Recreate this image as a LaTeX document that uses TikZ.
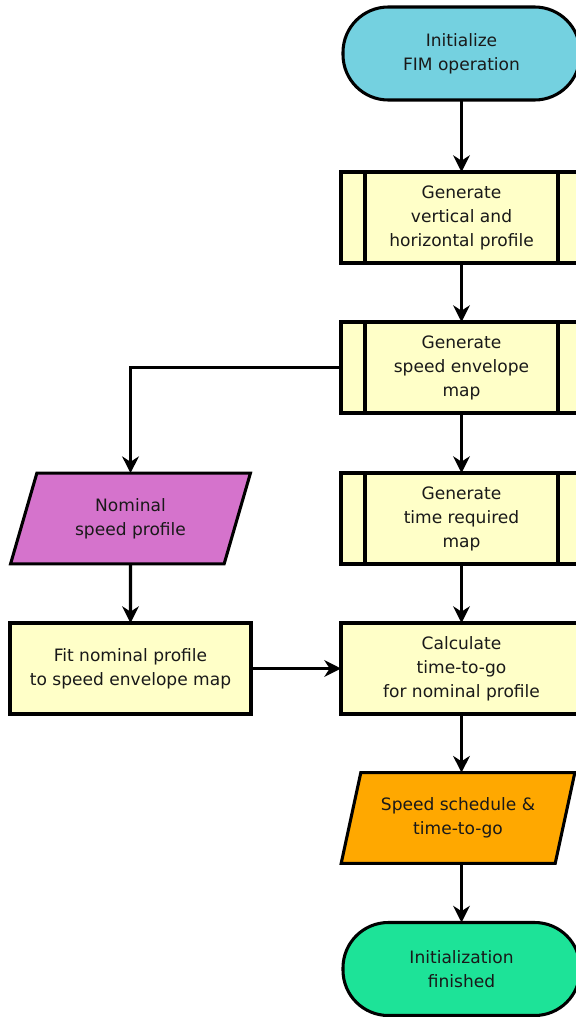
\documentclass[tikz,border=0pt]{standalone}
\usepackage{fontspec}
\setmainfont{DejaVu Sans}
\usetikzlibrary{shapes.geometric,arrows.meta}
\definecolor{cstart}{RGB}{116,209,224}
\definecolor{cbox}{RGB}{255,255,200}
\definecolor{cnom}{RGB}{213,115,204}
\definecolor{cout}{RGB}{255,168,0}
\definecolor{cend}{RGB}{29,227,152}
\definecolor{ctext}{RGB}{25,25,25}
\begin{document}
\begin{tikzpicture}[x=0.75pt,y=-0.75pt,
  shapebase/.style={font=\fontsize{12.8}{18}\selectfont, align=center, text=ctext, line width=2.3pt, draw=black, outer sep=0pt, inner sep=0pt},
  termbox/.style={shapebase, rectangle, rounded corners=34pt, minimum width=177.75pt, minimum height=69.75pt},
  procbox/.style={shapebase, rectangle, fill=cbox, minimum width=180.75pt, minimum height=68.25pt},
  iobox/.style={shapebase, trapezium, trapezium left angle=69, trapezium right angle=111, trapezium stretches=true, minimum height=68pt},
  conn/.style={line width=2.3pt, -{Stealth[width=12.5pt,length=12.5pt,inset=4pt]}},
  sideline/.style={line width=2.3pt}
]
\useasboundingbox (0,0) rectangle (575,1017);

\node[termbox, fill=cstart] (start) at (461.5,53.5) {Initialize\\FIM operation};
\node[procbox] (p1) at (461.5,217.5) {Generate\\vertical and\\horizontal profile};
\node[procbox] (p2) at (461.5,367.5) {Generate\\speed envelope\\map};
\node[procbox] (p3) at (461.5,518.5) {Generate\\time required\\map};
\node[procbox] (calc) at (461.5,668.5) {Calculate\\time-to-go\\for nominal profile};
\node[iobox, fill=cout, minimum width=175.5pt] (out) at (458,818) {Speed schedule \&\\time-to-go};
\node[termbox, fill=cend] (end) at (461.5,969) {Initialization\\finished};
\node[iobox, fill=cnom, minimum width=180pt] (nom) at (130.5,518.5) {Nominal\\speed profile};
\node[procbox] (fit) at (130.5,668.5) {Fit nominal profile\\to speed envelope map};

\foreach \n in {p1,p2,p3}{
  \draw[sideline] ([xshift=18pt]\n.north west) -- ([xshift=18pt]\n.south west);
  \draw[sideline] ([xshift=-18pt]\n.north east) -- ([xshift=-18pt]\n.south east);
}

\draw[conn] (start) -- (p1);
\draw[conn] (p1) -- (p2);
\draw[conn] (p2) -- (p3);
\draw[conn] (p3) -- (calc);
\draw[conn] (calc) -- (calc |- out.north);
\draw[conn] (out.south -| end) -- (end);
\draw[conn] (p2.west) -| (nom.north);
\draw[conn] (nom) -- (fit);
\draw[conn] (fit) -- (calc);
\end{tikzpicture}
\end{document}
